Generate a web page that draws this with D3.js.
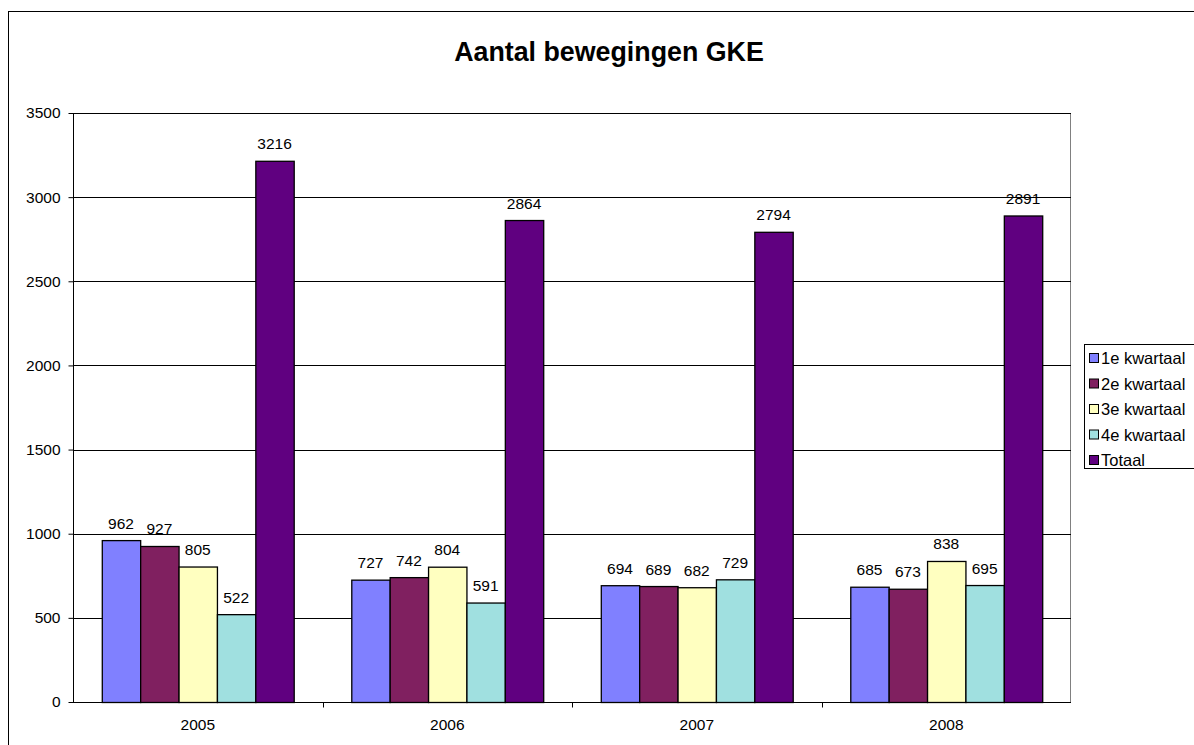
<!DOCTYPE html>
<html><head><meta charset="utf-8">
<script src="https://cdn.jsdelivr.net/npm/d3@7"></script>
<style>body{margin:0;background:#fff}svg{display:block;font-family:"Liberation Sans",Arial,sans-serif}</style>
</head><body>
<svg id="c" width="1194" height="745"></svg>
<script>
const years = ["2005","2006","2007","2008"];
const seriesNames = ["1e kwartaal","2e kwartaal","3e kwartaal","4e kwartaal","Totaal"];
const q1 = [962,727,694,685];
const q2 = [927,742,689,673];
const q3 = [805,804,682,838];
const q4 = [522,591,729,695];
const totaal = [3216,2864,2794,2891];
const yTicks = [0,500,1000,1500,2000,2500,3000,3500];
const colors = ["#8080FF","#802060","#FFFFC0","#A0E0E0","#600080"];
const seriesVals = [q1,q2,q3,q4,totaal];

const FONT = "Liberation Sans, Arial, sans-serif";
const svg = d3.select("#c");
svg.append("rect").attr("x",8.5).attr("y",11.5).attr("width",1200).attr("height",800)
  .attr("fill","#fff").attr("stroke","#000").attr("stroke-width",1);

const L=73, R=1071, T=113, B=702;
const x0 = d3.scaleBand().domain(years).range([L,R]).paddingInner(0).paddingOuter(0);
const y = d3.scaleLinear().domain([0,3500]).range([B,T]);
const bw = x0.bandwidth()/6.5;
const x1 = d3.scaleBand().domain(seriesNames).range([bw*0.75, bw*5.75]);

svg.append("text").attr("x",609).attr("y",61).attr("text-anchor","middle")
  .attr("font-size",26.8).attr("font-weight","bold").text("Aantal bewegingen GKE");

svg.append("rect").attr("x",L+0.5).attr("y",T+0.5).attr("width",R-L-1).attr("height",B-T)
  .attr("fill","none").attr("stroke","#808080");
svg.append("g").selectAll("line").data(yTicks.slice(1)).join("line")
  .attr("x1",L).attr("x2",R).attr("y1",d=>Math.round(y(d))+0.5).attr("y2",d=>Math.round(y(d))+0.5)
  .attr("stroke","#000").attr("stroke-width",1);

const data = [];
years.forEach((yr,i)=>seriesNames.forEach((s,j)=>data.push({yr,s,v:seriesVals[j][i],c:colors[j]})));
const g = svg.append("g");
g.selectAll("rect").data(data).join("rect")
  .attr("x",d=>x0(d.yr)+x1(d.s)+0.5).attr("y",d=>y(d.v)+0.5)
  .attr("width",x1.bandwidth()).attr("height",d=>B-y(d.v))
  .attr("fill",d=>d.c).attr("stroke","#000").attr("stroke-width",1.3);
g.selectAll("text").data(data).join("text")
  .attr("x",d=>x0(d.yr)+x1(d.s)+x1.bandwidth()/2).attr("y",d=>y(d.v)-11.5)
  .attr("text-anchor","middle").attr("font-size",15.5).text(d=>d.v);

const ya = svg.append("g").attr("transform",`translate(${L+0.5},0)`)
  .call(d3.axisLeft(y).tickValues(yTicks).tickFormat(d3.format("d")).tickSize(5).tickPadding(8));
ya.select(".domain").attr("stroke","#000").attr("d",`M0,${T}V${B}`);
ya.selectAll(".tick line").attr("stroke","#000");
ya.selectAll("text").attr("font-size",15.5).attr("font-family",FONT).attr("fill","#000");

const xa = svg.append("g").attr("transform",`translate(0,${B+0.5})`)
  .call(d3.axisBottom(x0).tickSize(0).tickPadding(16));
xa.select(".domain").attr("stroke","#000").attr("d",`M${L},0H${R}`);
xa.selectAll("text").attr("font-size",15.5).attr("font-family",FONT).attr("fill","#000");
xa.selectAll(".sep").data(years.slice(1)).join("line").attr("class","sep")
  .attr("x1",d=>Math.round(x0(d))+0.5).attr("x2",d=>Math.round(x0(d))+0.5).attr("y1",0).attr("y2",5).attr("stroke","#000");

const lg = svg.append("g");
lg.append("rect").attr("x",1084.5).attr("y",344.5).attr("width",120).attr("height",124)
  .attr("fill","#fff").attr("stroke","#000");
seriesNames.forEach((s,i)=>{
  const cy = 358 + i*25.5;
  lg.append("rect").attr("x",1089.5).attr("y",cy-4.5).attr("width",9).attr("height",9)
    .attr("fill",colors[i]).attr("stroke","#000");
  lg.append("text").attr("x",1101).attr("y",cy+6).attr("font-size",16.5).text(s);
});
</script>
</body></html>
